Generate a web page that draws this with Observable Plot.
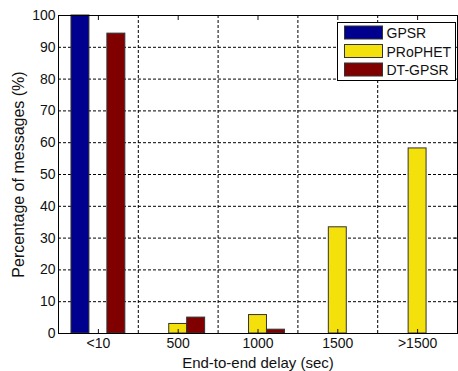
<!DOCTYPE html>
<html>
<head>
<meta charset="utf-8">
<script src="https://cdn.jsdelivr.net/npm/d3@7"></script>
<script src="https://cdn.jsdelivr.net/npm/@observablehq/plot@0.6"></script>
<style>
  html, body { margin: 0; padding: 0; background: #fff; }
  #chart { width: 458px; height: 371px; }
</style>
</head>
<body>
<div id="chart"></div>
<script>
const categories = ["<10", "500", "1000", "1500", ">1500"];
const series = ["GPSR", "PRoPHET", "DT-GPSR"];
const gpsr = [100, 0, 0, 0, 0];
const prophet = [0, 3, 5.8, 33.4, 58.2];
const dtgpsr = [94.3, 5, 1.2, 0, 0];
const colors = ["#00008f", "#f4e00a", "#800000"];
const yTicks = [0, 10, 20, 30, 40, 50, 60, 70, 80, 90, 100];
const xPositions = [1, 2, 3, 4, 5];
const gridX = [1.5, 2.5, 3.5, 4.5];
const gridY = [10, 20, 30, 40, 50, 60, 70, 80, 90];

const values = [gpsr, prophet, dtgpsr];
const barW = 0.225;
const rows = [];
series.forEach((s, j) => {
  values[j].forEach((v, i) => {
    if (v > 0) rows.push({pos: i + 1, j, series: s, value: v});
  });
});

const font = "'Liberation Sans', Arial, sans-serif";
const dash = "3,2";

const plot = Plot.plot({
  width: 458,
  height: 371,
  marginLeft: 58,
  marginRight: 1,
  marginTop: 15,
  marginBottom: 38,
  style: {fontFamily: font, fontSize: "14px", color: "#111", background: "#fff"},
  x: {domain: [0.5, 5.5]},
  y: {domain: [0, 100]},
  color: {domain: series, range: colors},
  marks: [
    Plot.ruleX(gridX, {stroke: "#000", strokeDasharray: dash, strokeWidth: 1}),
    Plot.ruleY(gridY, {stroke: "#000", strokeDasharray: dash, strokeWidth: 1}),
    Plot.rectY(rows, {
      x1: d => d.pos + (d.j - 1) * barW - barW / 2,
      x2: d => d.pos + (d.j - 1) * barW + barW / 2,
      y1: 0,
      y2: "value",
      fill: "series",
      stroke: "#333",
      strokeWidth: 1
    }),
    Plot.axisX({
      anchor: "bottom", ticks: xPositions, tickFormat: p => categories[p - 1],
      tickSize: -4, tickPadding: 9, label: "End-to-end delay (sec)",
      labelAnchor: "center", labelArrow: "none", labelOffset: 34,
      fontSize: 14
    }),
    Plot.axisX({
      anchor: "top", ticks: xPositions, tickFormat: () => "",
      tickSize: -4, label: null
    }),
    Plot.axisY({
      anchor: "left", ticks: yTicks, tickSize: 0, tickPadding: 3,
      label: "Percentage of messages (%)", labelAnchor: "center",
      labelArrow: "none", labelOffset: 46, fontSize: 14
    }),
    Plot.axisY({
      anchor: "right", ticks: yTicks, tickFormat: () => "",
      tickSize: -4, label: null
    }),
    Plot.frame({stroke: "#000", strokeWidth: 1})
  ]
});

document.getElementById("chart").appendChild(plot);

// style axis labels
d3.select(plot).selectAll("[aria-label='x-axis label'] text").style("font-size", "15px");
d3.select(plot).selectAll("[aria-label='y-axis label'] text").style("font-size", "16px");

// Legend inside plot (top-right)
const svg = d3.select(plot);
const lg = svg.append("g").attr("transform", "translate(337.5,22.5)");
lg.append("rect").attr("width", 118).attr("height", 58)
  .attr("fill", "#fff").attr("stroke", "#000").attr("stroke-width", 1);
series.forEach((s, j) => {
  const cy = 10 + j * 18.5;
  lg.append("rect").attr("x", 7).attr("y", cy - 6.5).attr("width", 38).attr("height", 13)
    .attr("fill", colors[j]).attr("stroke", "#333").attr("stroke-width", 1);
  lg.append("text").attr("x", 49).attr("y", cy + 5.5)
    .attr("text-anchor", "start")
    .attr("font-family", font).attr("font-size", 14).attr("fill", "#111").text(s);
});
</script>
</body>
</html>
